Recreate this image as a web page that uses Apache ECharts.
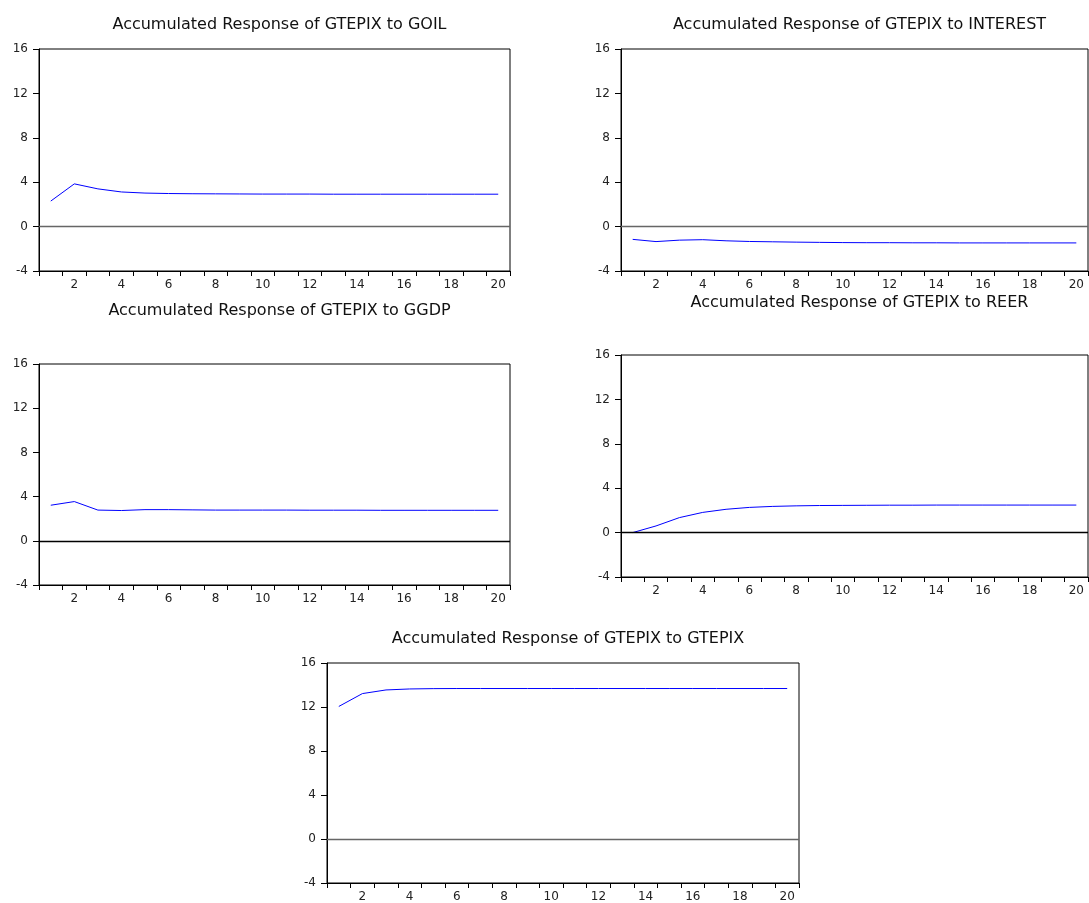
<!DOCTYPE html>
<html>
<head>
<meta charset="utf-8">
<title>Accumulated Response of GTEPIX</title>
<script src="https://cdn.jsdelivr.net/npm/echarts@6/dist/echarts.min.js"></script>
<style>
    html, body {
        margin: 0;
        padding: 0;
        background: #fff;
    }
    #chart {
        width: 1089px;
        height: 903px;
    }
</style>
</head>
<body>
<div id="chart"></div>
<script>
// periods 1..20
const periods = Array.from({length: 20}, (v, i) => String(i + 1));

const yTicks = {min: -4, max: 16, interval: 4};

// accumulated responses
const toGOIL = [2.30, 3.85, 3.40, 3.12, 3.02, 2.98, 2.96, 2.95, 2.94, 2.93,
    2.93, 2.93, 2.92, 2.92, 2.92, 2.92, 2.92, 2.92, 2.92, 2.92];
const toINTEREST = [-1.15, -1.35, -1.22, -1.18, -1.28, -1.34, -1.37, -1.40, -1.42, -1.44,
    -1.45, -1.45, -1.46, -1.46, -1.47, -1.47, -1.47, -1.47, -1.47, -1.47];
const toGGDP = [3.22, 3.55, 2.78, 2.74, 2.82, 2.82, 2.80, 2.78, 2.78, 2.78,
    2.78, 2.77, 2.77, 2.77, 2.76, 2.76, 2.76, 2.76, 2.76, 2.76];
const toREER = [0.00, 0.60, 1.35, 1.82, 2.10, 2.27, 2.36, 2.41, 2.44, 2.45,
    2.46, 2.47, 2.47, 2.48, 2.48, 2.48, 2.48, 2.48, 2.48, 2.48];
const toGTEPIX = [12.05, 13.22, 13.55, 13.64, 13.67, 13.68, 13.68, 13.68, 13.68, 13.68,
    13.68, 13.68, 13.68, 13.68, 13.68, 13.68, 13.68, 13.68, 13.68, 13.68];

const panels = [
    {title: 'Accumulated Response of GTEPIX to GOIL', data: toGOIL, zero: '#666',
        box: {left: 39, top: 49, width: 471, height: 222}, titleTop: 12},
    {title: 'Accumulated Response of GTEPIX to INTEREST', data: toINTEREST, zero: '#666',
        box: {left: 621, top: 49, width: 467, height: 222}, titleTop: 12},
    {title: 'Accumulated Response of GTEPIX to GGDP', data: toGGDP, zero: '#000',
        box: {left: 39, top: 364, width: 471, height: 221}, titleTop: 298},
    {title: 'Accumulated Response of GTEPIX to REER', data: toREER, zero: '#000',
        box: {left: 621, top: 355, width: 467, height: 222}, titleTop: 290},
    {title: 'Accumulated Response of GTEPIX to GTEPIX', data: toGTEPIX, zero: '#666',
        box: {left: 327, top: 663, width: 472, height: 222}, titleTop: 626}
];

const font = 'DejaVu Sans, Arial, sans-serif';

const buildOption = () => {
    const option = {
        animation: false,
        backgroundColor: '#fff',
        title: [],
        grid: [],
        xAxis: [],
        yAxis: [],
        series: []
    };
    panels.forEach((p, i) => {
        option.title.push({
            text: p.title,
            left: p.box.left + p.box.width / 2,
            top: p.titleTop,
            textAlign: 'center',
            textStyle: {
                fontFamily: font,
                fontSize: 16,
                fontWeight: 'normal',
                color: '#111'
            }
        });
        option.grid.push({
            ...p.box,
            show: true,
            borderColor: '#000',
            borderWidth: 1,
            containLabel: false
        });
        option.xAxis.push({
            type: 'category',
            gridIndex: i,
            data: periods,
            boundaryGap: true,
            axisLine: {onZero: false, lineStyle: {color: '#000', width: 1}},
            axisTick: {show: true, interval: 0, length: 5, lineStyle: {color: '#000'}},
            axisLabel: {
                interval: (idx) => idx % 2 === 1,
                margin: 8,
                fontFamily: font,
                fontSize: 12,
                color: '#222'
            },
            splitLine: {show: false}
        });
        option.yAxis.push({
            type: 'value',
            gridIndex: i,
            ...yTicks,
            axisLine: {show: true, onZero: false, lineStyle: {color: '#000', width: 1}},
            axisTick: {show: true, length: 6, lineStyle: {color: '#000'}},
            axisLabel: {
                margin: 11,
                fontFamily: font,
                fontSize: 12,
                color: '#222'
            },
            splitLine: {show: false}
        });
        option.series.push({
            type: 'line',
            xAxisIndex: i,
            yAxisIndex: i,
            data: p.data,
            showSymbol: false,
            symbol: 'none',
            lineStyle: {color: '#0000ff', width: 1},
            markLine: {
                silent: true,
                symbol: 'none',
                label: {show: false},
                lineStyle: {color: p.zero, width: 1.4, type: 'solid'},
                data: [{yAxis: 0}]
            }
        });
    });
    return option;
};

const chart = echarts.init(document.getElementById('chart'));
chart.setOption(buildOption());
</script>
</body>
</html>
